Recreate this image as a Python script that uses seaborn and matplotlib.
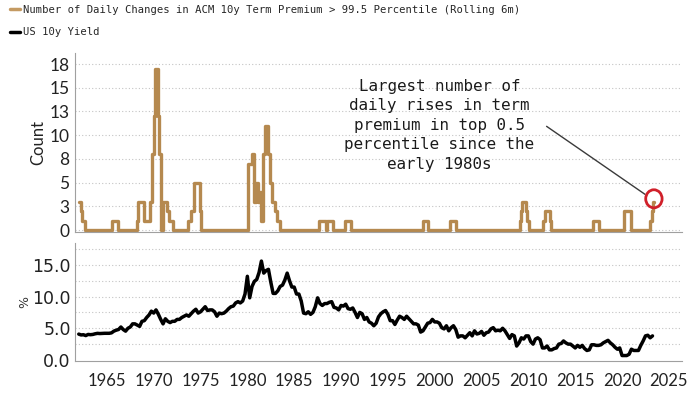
#!/usr/bin/env python
# Term premium spikes vs US 10y yield (two stacked panels)

import numpy as np
import matplotlib
matplotlib.use("Agg")
import matplotlib.pyplot as plt
from matplotlib.patches import Ellipse
import seaborn as sns

sns.set_style("white")
plt.rcParams['font.family'] = ['Lato', 'DejaVu Sans']

# Rolling 6m count of daily term premium changes > 99.5 percentile (step series)
count_years = [1962.0, 1962.2, 1962.4, 1962.7, 1965.6, 1966.2, 1968.2, 1968.3, 1969.0,
               1969.6, 1969.8, 1970.0, 1970.1, 1970.5, 1970.6, 1970.75, 1971.0, 1971.4,
               1971.6, 1972.1, 1973.7, 1974.0, 1974.3, 1974.9, 1975.0, 1980.1, 1980.5,
               1980.7, 1980.9, 1981.1, 1981.3, 1981.5, 1981.7, 1981.9, 1982.2, 1982.4,
               1982.6, 1982.9, 1983.2, 1983.5, 1987.7, 1988.4, 1988.5, 1989.1, 1990.4,
               1991.1, 1998.7, 1999.3, 2001.6, 2002.3, 2009.1, 2009.25, 2009.35, 2009.7,
               2009.9, 2010.1, 2011.6, 2011.8, 2012.3, 2012.4, 2016.9, 2017.5, 2020.2,
               2021.0, 2023.0, 2023.2, 2023.35, 2023.45]
count_values = [3, 2, 1, 0, 1, 0, 1, 3, 1,
                3, 8, 12, 17, 12, 8, 0, 3, 2,
                1, 0, 1, 2, 5, 2, 0, 7, 8,
                3, 5, 3, 4, 1, 8, 11, 8, 5,
                3, 2, 1, 0, 1, 0, 1, 0, 1,
                0, 1, 0, 1, 0, 1, 2, 3, 2,
                1, 0, 1, 2, 1, 0, 1, 0, 2,
                0, 1, 2, 3, 3]

# US 10y yield, quarterly, from 1962 Q1
yield_start = 1962.0
yield_values = [
    4.08, 3.95, 3.98, 3.85,  4.03, 3.99, 4.03, 4.13,  4.20, 4.17, 4.19, 4.21,
    4.21, 4.21, 4.28, 4.55,  4.70, 4.81, 5.20, 4.80,  4.55, 5.00, 5.20, 5.70,
    5.70, 5.50, 5.30, 6.10,  6.20, 6.70, 7.10, 7.70,  7.40, 7.90, 7.20, 6.40,
    5.70, 6.50, 6.10, 5.90,  6.10, 6.10, 6.40, 6.40,  6.70, 6.90, 7.10, 6.90,
    7.30, 7.70, 8.00, 7.40,  7.60, 8.00, 8.40, 7.80,  7.90, 7.90, 7.60, 6.90,
    7.40, 7.30, 7.40, 7.70,  8.10, 8.40, 8.50, 9.00,  9.20, 9.00, 9.30, 10.40,
    13.20, 9.80, 11.60, 12.40,  12.70, 13.80, 15.60, 13.70,  14.10, 14.30, 12.30, 10.50,
    10.50, 10.90, 11.60, 11.80,  12.60, 13.70, 12.50, 11.50,  11.50, 10.40, 10.40, 9.30,
    7.40, 7.30, 7.60, 7.20,  7.50, 8.40, 9.80, 8.90,  8.60, 8.90, 8.90, 9.10,
    9.20, 8.30, 8.20, 7.90,  8.60, 8.50, 8.80, 8.10,  8.00, 8.20, 7.50, 6.70,
    7.50, 7.30, 6.40, 6.70,  6.00, 5.80, 5.40, 5.80,  6.80, 7.30, 7.60, 7.80,
    7.20, 6.20, 6.20, 5.60,  6.30, 6.90, 6.70, 6.40,  6.90, 6.50, 6.10, 5.70,
    5.70, 5.50, 4.40, 4.60,  5.20, 5.80, 5.90, 6.40,  6.00, 6.00, 5.80, 5.10,
    4.90, 5.40, 4.60, 5.10,  5.40, 4.80, 3.60, 3.80,  3.80, 3.50, 3.90, 4.30,
    3.80, 4.60, 4.10, 4.20,  4.50, 3.90, 4.30, 4.40,  4.90, 5.10, 4.60, 4.70,
    4.60, 5.00, 4.60, 4.00,  3.40, 4.00, 3.80, 2.20,  2.70, 3.50, 3.30, 3.80,
    3.80, 2.90, 2.50, 3.30,  3.50, 3.20, 1.90, 1.90,  2.20, 1.60, 1.60, 1.80,
    1.90, 2.50, 2.60, 3.00,  2.70, 2.50, 2.50, 2.20,  1.90, 2.30, 2.00, 2.30,
    1.80, 1.50, 1.60, 2.40,  2.40, 2.30, 2.30, 2.40,  2.70, 2.90, 3.10, 2.70,
    2.40, 2.00, 1.70, 1.90,  0.70, 0.70, 0.70, 0.90,  1.70, 1.50, 1.50, 1.50,
    2.30, 3.00, 3.80, 3.90,  3.50, 3.80,
]
yield_years = yield_start + 0.25 * np.arange(len(yield_values))

count_ticks = [0, 2.5, 5, 7.5, 10, 12.5, 15, 17.5]
count_tick_labels = ["0", "3", "5", "8", "10", "13", "15", "18"]
yield_grid = [0, 2.5, 5, 7.5, 10, 12.5, 15, 17.5]
yield_tick_labels = ["0.0", "5.0", "10.0", "15.0"]
year_ticks = list(range(1965, 2030, 5))

annotation = ("Largest number of\ndaily rises in term\npremium in top 0.5\n"
              "percentile since the\nearly 1980s")

tan = "#B5894F"
grid_kw = dict(color="#c4c4c4", linestyle=(0, (1, 2)), linewidth=0.8)

fig = plt.figure(figsize=(7, 3.94), dpi=100)
ax1 = fig.add_axes([75 / 700, 162 / 394, 607 / 700, 179 / 394])
ax2 = fig.add_axes([75 / 700, 33 / 394, 607 / 700, 118 / 394], sharex=ax1)

# Top panel: count
sns.lineplot(x=count_years, y=count_values, ax=ax1, color=tan, linewidth=2.4,
             drawstyle="steps-post", estimator=None)
ax1.set_ylim(-0.2, 18.66)
ax1.set_yticks(count_ticks)
ax1.set_yticklabels(count_tick_labels)
ax1.set_ylabel("Count", fontsize=12, color="#222222", labelpad=2)
for y in count_ticks:
    ax1.axhline(y, zorder=0, **grid_kw)
ax1.tick_params(axis="y", labelsize=12.5, colors="#222222", length=0, pad=4)
ax1.tick_params(axis="x", bottom=False, labelbottom=False)

ax1.text(2000.5, 11.06, annotation, ha="center", va="center", fontsize=11.4,
         family="DejaVu Sans Mono", color="#1a1a1a", linespacing=1.38)
ax1.annotate("", xy=(2022.7, 3.6), xytext=(2011.7, 11.1),
             arrowprops=dict(arrowstyle="-", color="#3a3a3a", lw=1.0))
ax1.add_patch(Ellipse((2023.4, 3.3), 1.75, 1.9, fill=False,
                      edgecolor="#D0202A", linewidth=2.0, zorder=5))

# Bottom panel: yield
sns.lineplot(x=yield_years, y=yield_values, ax=ax2, color="black", linewidth=2.5,
             estimator=None)
ax2.set_ylim(-0.16, 18.45)
for y in yield_grid:
    if y > 0:
        ax2.axhline(y, zorder=0, **grid_kw)
ax2.set_yticks([0, 5, 10, 15])
ax2.set_yticklabels(yield_tick_labels, family="DejaVu Sans")
ax2.set_ylabel("%", fontsize=9, color="#333333", family="DejaVu Sans", labelpad=1)
ax2.tick_params(axis="y", labelsize=12.5, colors="#222222", length=0, pad=3)
ax2.set_xticks(year_ticks)
ax2.set_xticklabels([str(t) for t in year_ticks])
ax2.tick_params(axis="x", labelsize=12, colors="#222222", length=4, width=0.8,
                color="#999999", pad=5)
ax2.set_xlim(1961.6, 2026.4)

for ax in (ax1, ax2):
    for side in ("top", "right"):
        ax.spines[side].set_visible(False)
    for side in ("left", "bottom"):
        ax.spines[side].set_color("#a0a0a0")
        ax.spines[side].set_linewidth(0.8)

# Legend at top left
h1 = plt.Line2D([], [], color="#C49A62", linewidth=2.5)
h2 = plt.Line2D([], [], color="black", linewidth=2.5)
fig.legend([h1, h2],
           ["Number of Daily Changes in ACM 10y Term Premium > 99.5 Percentile (Rolling 6m)",
            "US 10y Yield"],
           loc="upper left", bbox_to_anchor=(0.0, 1.012), frameon=False,
           handlelength=1.0, handletextpad=0.25, labelspacing=1.2,
           prop=dict(family="DejaVu Sans Mono", size=7.6))

fig.savefig("out.png", dpi=100)
